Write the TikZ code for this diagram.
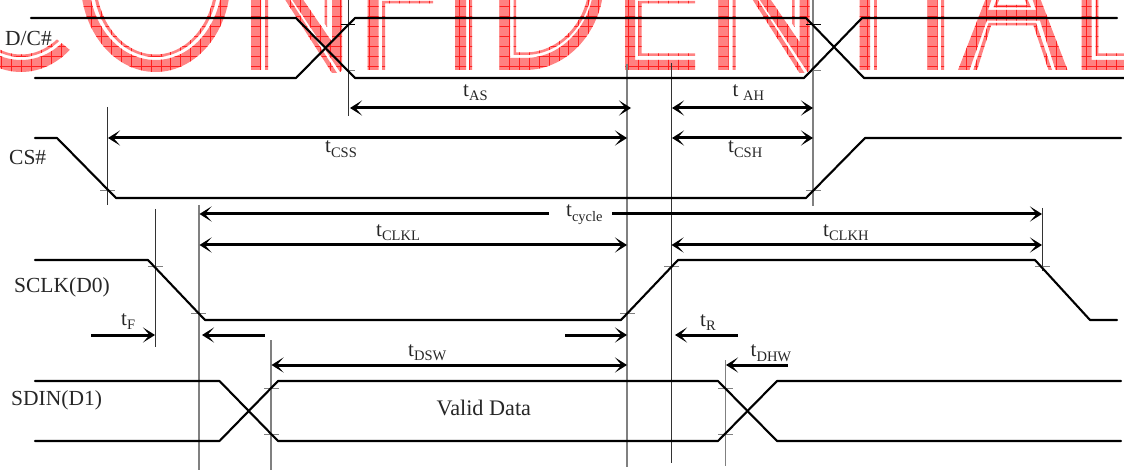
\documentclass[tikz,border=0pt]{standalone}
\usepackage{fontspec}
\setmainfont{Liberation Serif}
\usetikzlibrary{arrows.meta}
\definecolor{wmpink}{HTML}{FF8282}
\definecolor{wmred}{HTML}{FF2020}
\definecolor{guide}{HTML}{808080}
\tikzset{
  even odd clip/.code={\pgfseteorule},
  sigline/.style={line width=2.1pt,line join=round,line cap=round,black},
  darkguide/.style={line width=.9pt,black!80},
  greyguide/.style={line width=1.2pt,guide},
  blacktick/.style={line width=1pt,black},
  greytick/.style={line width=1pt,guide},
  tip/.tip={Stealth[length=12pt,width=15pt,inset=6.5pt]},
  timearrow/.style={line width=3pt,black},
  both/.style={timearrow,{tip}-{tip}},
  toleft/.style={timearrow,{tip}-},
  toright/.style={timearrow,-{tip}},
  sig/.style={inner sep=0pt,anchor=base west,font=\fontsize{21.5}{24}\selectfont,text=black!85},
  tl/.style={inner sep=0pt,anchor=base west,font=\fontsize{21}{24}\selectfont,text=black!85}
}
\newcommand{\wmbg}{%
  \fill[wmpink] (-5,-5) rectangle (1130,80);
  \foreach \k in {-51,...,62} {\draw[wmred,line width=.5pt] (509+9.95*\k,-5) -- (509+9.95*\k,80);}
  \foreach \k in {0,...,7} {\draw[wmred,line width=.5pt] (-5,6.7+10*\k) -- (1130,6.7+10*\k);}
}
% name, x1, x2, y, style
\newcommand{\tarrow}[5]{%
  \coordinate (#1a) at (#2,#4);
  \coordinate (#1b) at (#3,#4);
  \draw[#5] (#1a) -- (#1b);
}
\newcommand{\tlab}[5]{% name x y sub gap
  \node[tl] (#1) at (#2,#3) {t\hspace{#5pt}\raisebox{-4.5pt}{\fontsize{14.5}{16}\selectfont #4}};
}
\begin{document}
\begin{tikzpicture}[x=1pt,y=-1pt]
\useasboundingbox (0,0) rectangle (1124,470);
\begin{scope}
\clip (0,0) rectangle (1124,470);
% watermark: C
\begin{scope}
\clip (-5,90) -- (85,90) -- (85,62.3) -- (35,21.4) -- (-5,21.4) -- cycle;
\begin{scope}[even odd clip]
\clip (21,-20) ellipse [x radius=75pt,y radius=92pt]
      (21,-20) ellipse [x radius=66.5pt,y radius=80pt]
      (21,-20) ellipse [x radius=62.6pt,y radius=77pt]
      (21,-20) ellipse [x radius=59.5pt,y radius=74.5pt];
\wmbg
\end{scope}
\end{scope}
% watermark: rest
\begin{scope}[even odd clip]
\clip
  % O
  (155.5,-20) ellipse [x radius=75pt,y radius=92pt]
  (155.5,-20) ellipse [x radius=66.5pt,y radius=80pt]
  (155.5,-20) ellipse [x radius=62.6pt,y radius=77pt]
  (155.5,-20) ellipse [x radius=59.5pt,y radius=74.5pt]
  % N
  (251,-2) rectangle (261,70)
  (265,-2) rectangle (268,70)
  (284,-2) -- (289,-2) -- (337,73) -- (332,73) -- cycle
  (291,-2) -- (302,-2) -- (332,42) -- (332,-2) -- (342,-2) -- (342,70) -- (340,72) -- cycle
  (324.5,-2) -- (327,-2) -- (327,27) -- (324.5,23.5) -- cycle
  % F
  (367.5,-2) rectangle (378.5,70)
  (382,70) -- (382,1) -- (433,1) -- (433,3.5) -- (385,3.5) -- (385,70) -- cycle
  % I
  (455,-2) rectangle (466,70)
  (469,-2) rectangle (472,70)
  % D
  (499.5,-25) -- (499.5,70) -- (525,70) .. controls (568.6,70) and (604,29.7) .. (604,-20)
     -- (594,-20) .. controls (594,23.1) and (563.1,58) .. (525,58) -- (510,58) -- (510,-25) -- cycle
  (513.5,-25) -- (513.5,55) -- (525,55) .. controls (562.2,55) and (592.4,21.4) .. (592.4,-20)
     -- (589.3,-20) .. controls (589.3,20) and (560.5,52.5) .. (525,52.5) -- (516,52.5) -- (516,-25) -- cycle
  % E
  (625,-2) -- (625,70) -- (695,70) -- (695,60) -- (635,60) -- (635,-2) -- cycle
  (638.3,1) -- (695,1) -- (695,3.5) -- (641.5,3.5) -- (641.5,53.3) -- (695,53.3) -- (695,56) -- (638.3,56) -- cycle
  % N
  (718.5,-2) rectangle (728.5,70)
  (732.5,-2) rectangle (735.5,70)
  (751.5,-2) -- (756.5,-2) -- (804.5,73) -- (799.5,73) -- cycle
  (758.5,-2) -- (769.5,-2) -- (799.5,42) -- (799.5,-2) -- (809.5,-2) -- (809.5,70) -- (807.5,72) -- cycle
  (792,-2) -- (794.5,-2) -- (794.5,27) -- (792,23.5) -- cycle
  % T
  (859.5,-2) rectangle (870,70)
  (874,-2) rectangle (876.8,70)
  % I
  (927.5,-2) rectangle (937.7,70)
  (941,-2) rectangle (944,70)
  % A
  (958,70) -- (986,-2) -- (1040,-2) -- (1067.5,70) -- (1055.5,70) -- (1040,20.7) -- (986.7,20.7) -- (969.5,70) -- cycle
  (988,10) -- (992,-2) -- (1032,-2) -- (1036,10) -- cycle
  (973.3,70) -- (988.5,23) -- (1036,23) -- (1052,70) -- (1048.5,70) -- (1033.5,25.5) -- (991,25.5) -- (977,70) -- cycle
  (993.5,7.5) -- (997,-2) -- (1000,-2) -- (997,5) -- (1027,5) -- (1024,-2) -- (1027,-2) -- (1031,7.5) -- cycle
  % L
  (1081.5,-2) -- (1081.5,70) -- (1126,70) -- (1126,60) -- (1091.7,60) -- (1091.7,-2) -- cycle
  (1095.7,-2) -- (1095.7,56) -- (1126,56) -- (1126,53.3) -- (1098.3,53.3) -- (1098.3,-2) -- cycle;
\wmbg
\end{scope}
% guide lines
\draw[darkguide] (348,0) -- (348,116);
\draw[darkguide] (107,107) -- (107,205);
\draw[darkguide] (155,209) -- (155,347);
\draw[greyguide] (199,205) -- (199,470);
\draw[greyguide] (271,340) -- (271,470);
\draw[greyguide] (627,64) -- (627,467);
\draw[darkguide] (671,63) -- (671,463);
\draw[greyguide] (813,0) -- (813,206);
\draw[darkguide] (1042,208) -- (1042,271);
\draw[greyguide] (725.5,360) -- (725.5,466);
% ticks
\draw[blacktick] (341,25) -- (355,25);
\draw[greytick] (348,71) -- (355,71);
\draw[blacktick] (806,25) -- (821,25);
\draw[greytick] (813,71) -- (821,71);
\draw[greytick] (100,191) -- (115,191);
\draw[greytick] (806,191) -- (821,191);
\draw[greytick] (148,267) -- (163,267);
\draw[greytick] (191,313) -- (206,313);
\draw[greytick] (620,313) -- (635,313);
\draw[greytick] (664,267) -- (679,267);
\draw[greytick] (1035,267) -- (1050,267);
\draw[greytick] (264,388) -- (279,388);
\draw[greytick] (264,434) -- (279,434);
\draw[greytick] (718,388) -- (733,388);
\draw[greytick] (718,434) -- (733,434);
% signals
\draw[sigline] (31,18) -- (296,18) -- (355,78) -- (804,78) -- (862,18) -- (1117,18);
\draw[sigline] (35,78) -- (296,78) -- (355,18) -- (806,18) -- (864,78) -- (1124,78);
\draw[sigline] (35,138) -- (57,138) -- (116,198) -- (806,198) -- (865,138) -- (1121,138);
\draw[sigline] (35,260) -- (148,260) -- (205,320) -- (621,320) -- (678,260) -- (1035,260) -- (1090,320) -- (1117,320);
\draw[sigline] (35,381) -- (219.5,381) -- (278,441) -- (718,441) -- (777,381) -- (1121,381);
\draw[sigline] (35,441) -- (219.5,441) -- (278,381) -- (718,381) -- (777,441) -- (1121,441);
% arrows
\tarrow{as}{350}{631}{108}{both}
\tarrow{ah}{672}{813}{108}{both}
\tarrow{css}{108}{627}{138}{both}
\tarrow{csh}{672}{813}{138}{both}
\tarrow{cyl}{199.5}{549}{214}{toleft}
\tarrow{cyr}{612}{1042}{214}{toright}
\tarrow{clkl}{199.5}{627}{245}{both}
\tarrow{clkh}{671.5}{1042}{245}{both}
\tarrow{f}{91}{155}{335}{toright}
\tarrow{fb}{202}{265}{335}{toleft}
\tarrow{ra}{565}{627}{335}{toright}
\tarrow{rb}{675}{738}{335}{toleft}
\tarrow{dsw}{271.5}{627}{365}{both}
\tarrow{dhw}{726}{788}{365}{toleft}
% labels
\node[sig] (dc) at (5,45.5) {D/C\#};
\node[sig] (cs) at (9,165) {CS\#};
\node[sig] (sclk) at (14,293) {SCLK(D0)};
\node[sig] (sdin) at (11,405) {SDIN(D1)};
\node[sig,font=\fontsize{22.2}{24}\selectfont] (valid) at (436.5,415) {Valid Data};
\tlab{tas}{463}{96.5}{AS}{0}
\tlab{tah}{732.5}{96.5}{AH}{4.5}
\tlab{tcss}{325}{153}{CSS}{0}
\tlab{tcsh}{728}{153}{CSH}{0}
\tlab{tcyc}{566}{217}{cycle}{0}
\tlab{tclkl}{376}{236.5}{CLKL}{0}
\tlab{tclkh}{823}{236.5}{CLKH}{0}
\tlab{tfl}{121}{325}{F}{0}
\tlab{tdsw}{408}{356}{DSW}{0}
\tlab{trl}{700}{326}{R}{0}
\tlab{tdhw}{750.5}{356.5}{DHW}{0}
\end{scope}
\end{tikzpicture}
\end{document}
